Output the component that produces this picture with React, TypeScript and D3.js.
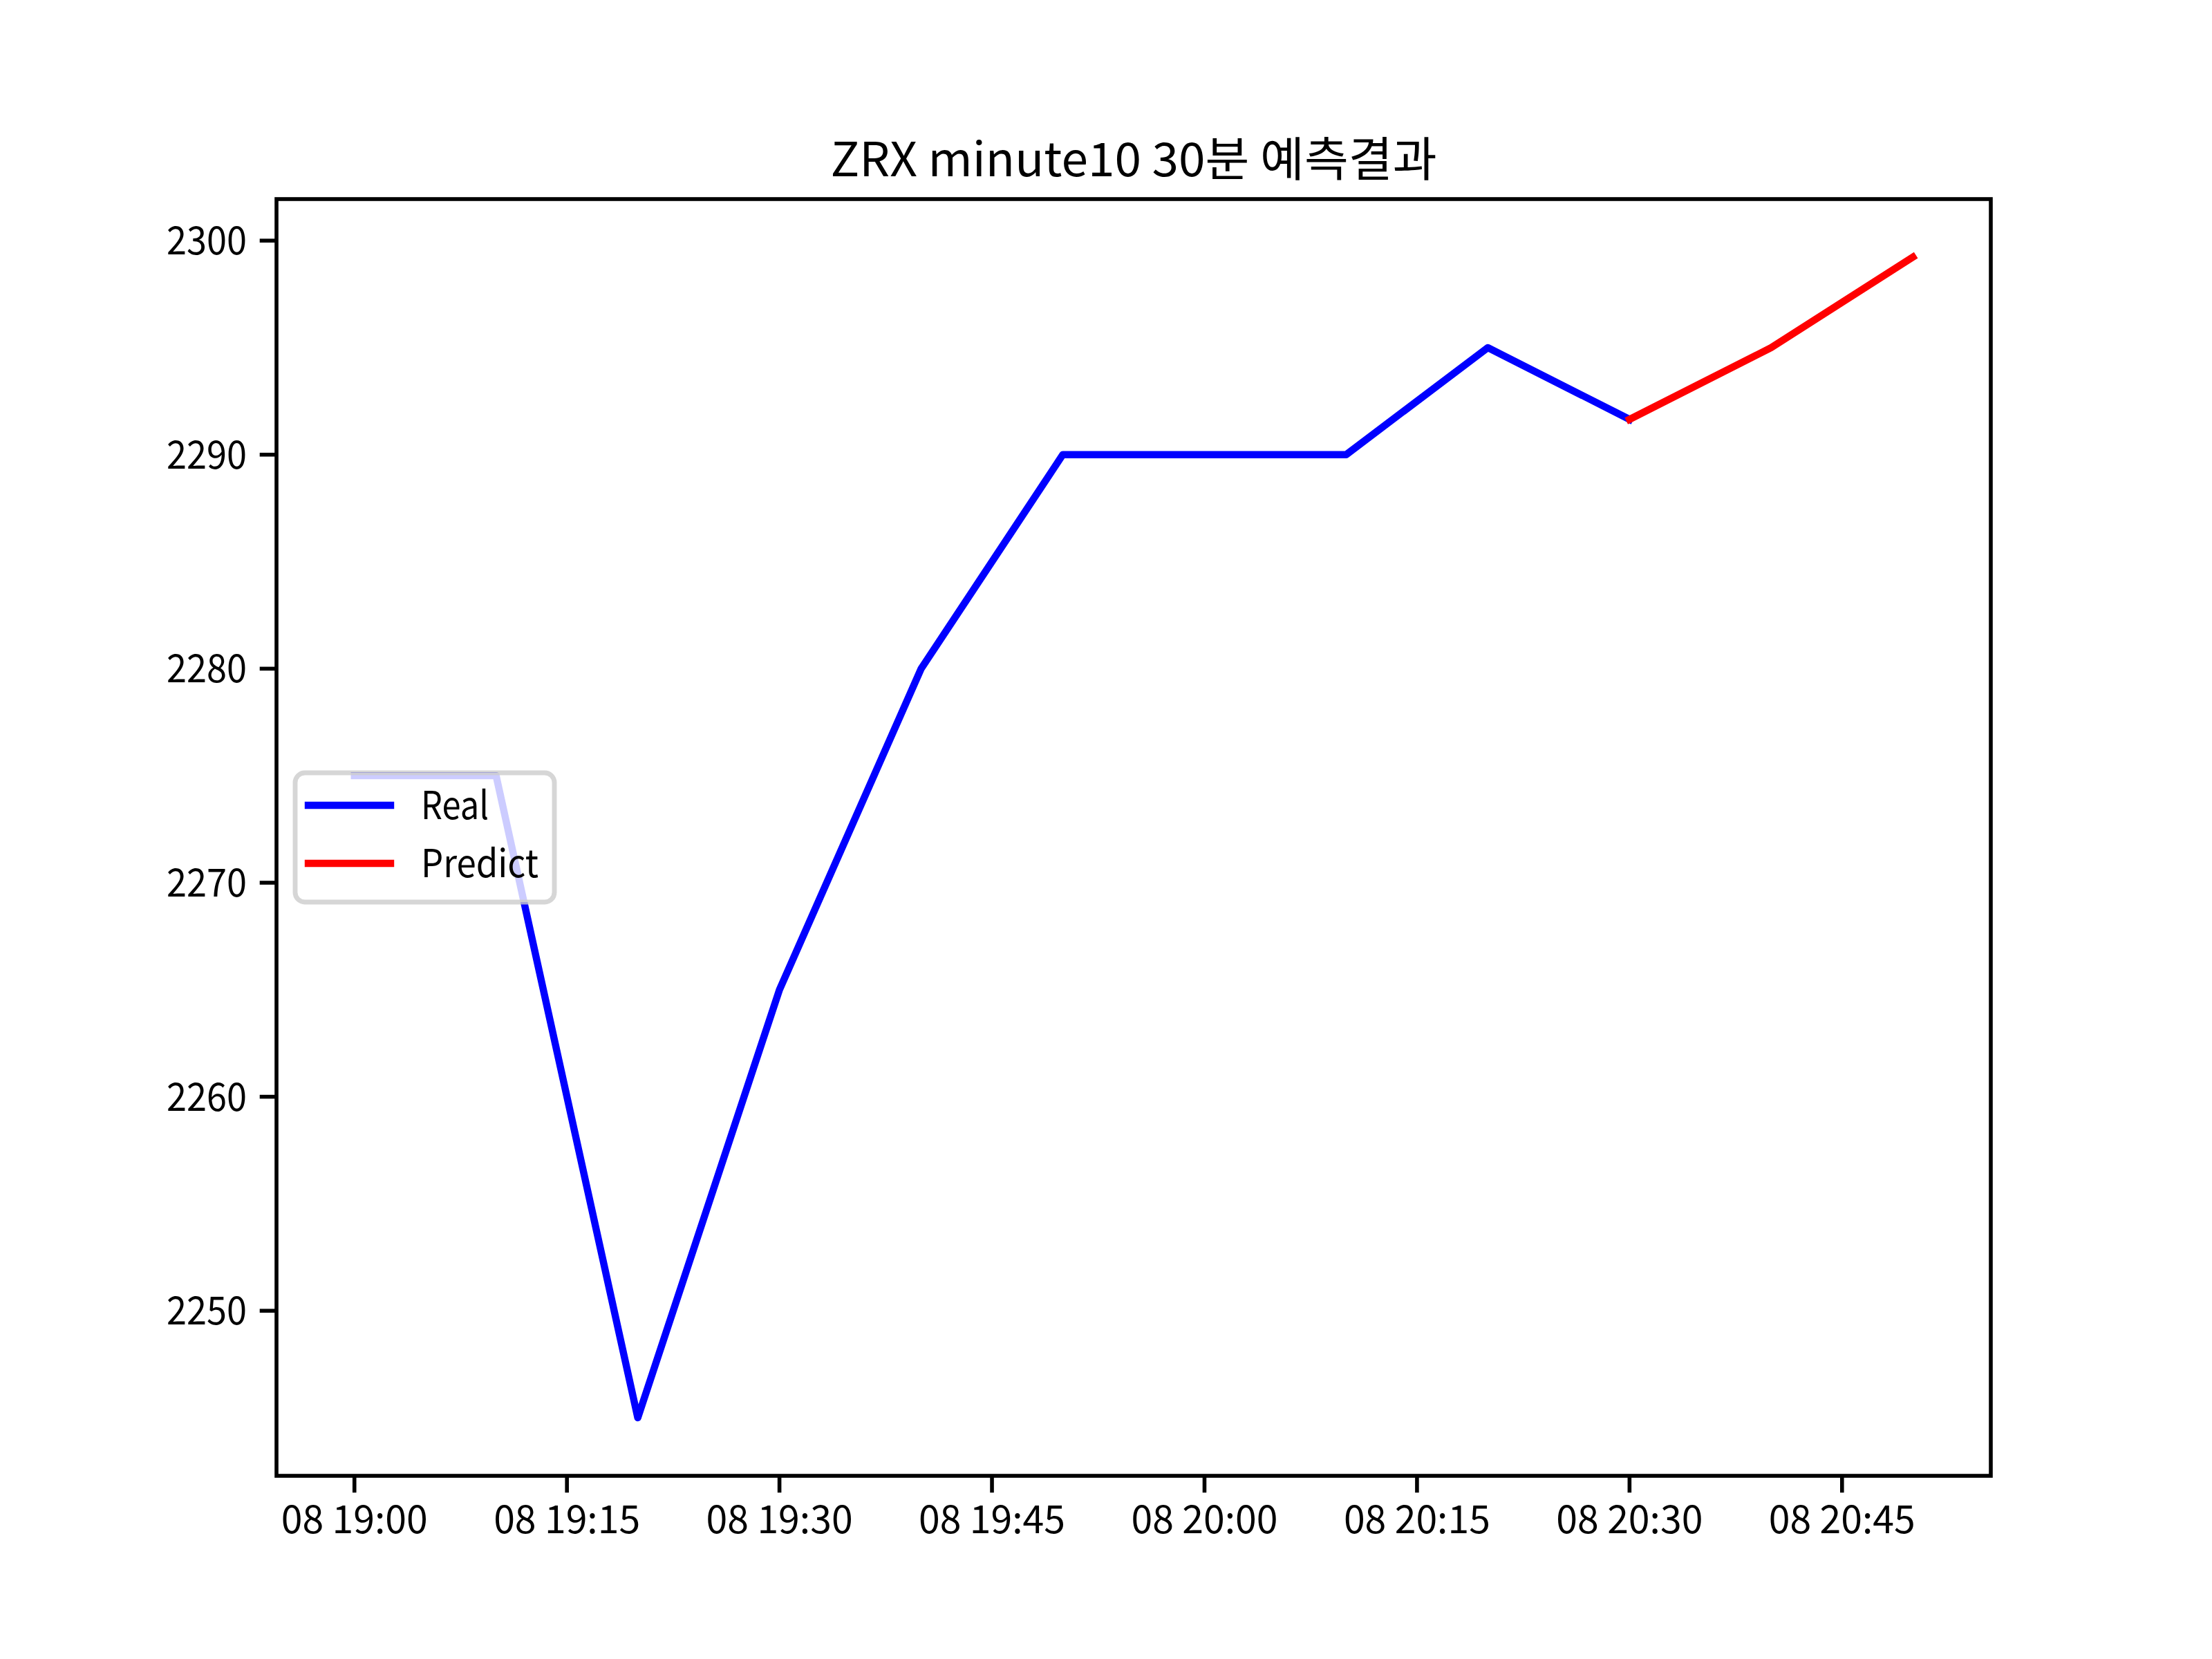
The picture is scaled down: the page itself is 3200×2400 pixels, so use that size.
import React from "react";
import * as d3 from "d3";

const realTimes = ["19:00", "19:10", "19:20", "19:30", "19:40", "19:50", "20:00", "20:10", "20:20", "20:30"];
const realValues = [2275, 2275, 2245, 2265, 2280, 2290, 2290, 2290, 2295, 2291.65];
const predictTimes = ["20:30", "20:40", "20:50"];
const predictValues = [2291.65, 2295.0, 2299.23];
const xTickLabels = ["19:00", "19:15", "19:30", "19:45", "20:00", "20:15", "20:30", "20:45"];
const yTickValues = [2250, 2260, 2270, 2280, 2290, 2300];
const titleText = "ZRX minute10 30분 예측결과";
const legendLabels = ["Real", "Predict"];
const seriesColors = ["#0000ff", "#ff0000"];

const toDate = (t: string) => {
  const [h, m] = t.split(":").map(Number);
  return new Date(Date.UTC(2021, 5, 8, h, m));
};

const W = 3200;
const H = 2400;
const left = 400;
const right = 2880;
const top = 288;
const bottom = 2135;
const FONT = "'Noto Sans CJK KR', 'Noto Sans', sans-serif";

export default function App() {
  const allDates = [...realTimes, ...predictTimes].map(toDate);
  const allVals = [...realValues, ...predictValues];
  const [xMin, xMax] = d3.extent(allDates) as [Date, Date];
  const xSpan = +xMax - +xMin;
  const x = d3
    .scaleUtc()
    .domain([new Date(+xMin - xSpan * 0.05), new Date(+xMax + xSpan * 0.05)])
    .range([left, right]);
  const [yMin, yMax] = d3.extent(allVals) as [number, number];
  const ySpan = yMax - yMin;
  const y = d3
    .scaleLinear()
    .domain([yMin - ySpan * 0.05, yMax + ySpan * 0.05])
    .range([bottom, top]);

  const line = d3
    .line<[Date, number]>()
    .x((d) => x(d[0]))
    .y((d) => y(d[1]));

  const realPts = realTimes.map((t, i) => [toDate(t), realValues[i]] as [Date, number]);
  const predPts = predictTimes.map((t, i) => [toDate(t), predictValues[i]] as [Date, number]);

  const lw = 10.4;
  const tickLen = 24.3;
  const spineW = 5.6;

  const lgX = 427, lgY = 1118, lgW = 375, lgH = 187;
  const legendTextLen = [98, 170];

  return (
    <svg
      width={W}
      height={H}
      style={{ position: "absolute", left: 0, top: 0, background: "#fff" }}
      fontFamily={FONT}
    >
      <rect x={0} y={0} width={W} height={H} fill="#fff" />
      <text x={(left + right) / 2} y={255} fontSize={68} textAnchor="middle" fill="#000" textLength={877} lengthAdjust="spacingAndGlyphs">
        {titleText}
      </text>

      <path d={line(realPts) || ""} fill="none" stroke={seriesColors[0]} strokeWidth={lw} strokeLinejoin="round" strokeLinecap="square" />
      <path d={line(predPts) || ""} fill="none" stroke={seriesColors[1]} strokeWidth={lw} strokeLinejoin="round" strokeLinecap="square" />

      <rect x={left} y={top} width={right - left} height={bottom - top} fill="none" stroke="#000" strokeWidth={spineW} strokeLinejoin="miter" />

      {xTickLabels.map((t) => {
        const xx = x(toDate(t));
        return (
          <g key={t}>
            <line x1={xx} x2={xx} y1={bottom} y2={bottom + tickLen} stroke="#000" strokeWidth={spineW} />
            <text x={xx} y={2218} fontSize={56} textAnchor="middle" fill="#000" textLength={212} lengthAdjust="spacingAndGlyphs">
              {"08 " + t}
            </text>
          </g>
        );
      })}

      {yTickValues.map((v) => {
        const yy = y(v);
        return (
          <g key={v}>
            <line x1={left - tickLen} x2={left} y1={yy} y2={yy} stroke="#000" strokeWidth={spineW} />
            <text x={357} y={yy + 20} fontSize={56} textAnchor="end" fill="#000" textLength={116} lengthAdjust="spacingAndGlyphs">
              {String(v)}
            </text>
          </g>
        );
      })}

      <rect x={lgX} y={lgY} width={lgW} height={lgH} rx={14} ry={14} fill="#fff" fillOpacity={0.8} stroke="#cccccc" strokeOpacity={0.8} strokeWidth={6.9} />
      {legendLabels.map((lab, i) => {
        const ly = 1165 + i * 84;
        return (
          <g key={lab}>
            <line x1={446} x2={565} y1={ly} y2={ly} stroke={seriesColors[i]} strokeWidth={lw} strokeLinecap="square" />
            <text x={609} y={ly + 20} fontSize={56} fill="#000" textLength={legendTextLen[i]} lengthAdjust="spacingAndGlyphs">
              {lab}
            </text>
          </g>
        );
      })}
    </svg>
  );
}
